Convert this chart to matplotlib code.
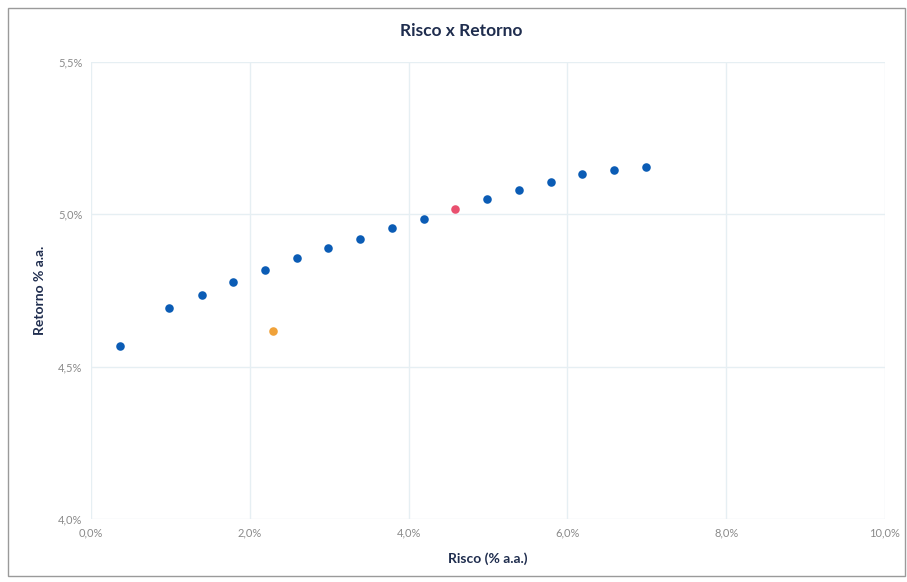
import matplotlib.pyplot as plt
from matplotlib.ticker import FuncFormatter
from matplotlib.patches import Rectangle

# Fronteira eficiente (Risco % a.a., Retorno % a.a.)
risco = [0.36, 0.98, 1.40, 1.79, 2.19, 2.59, 2.99, 3.39, 3.79, 4.20,
         4.99, 5.39, 5.79, 6.19, 6.59, 6.99]
retorno = [4.569, 4.694, 4.736, 4.778, 4.816, 4.856, 4.891, 4.919, 4.954, 4.986,
           5.049, 5.079, 5.107, 5.134, 5.147, 5.156]

# Carteira otima (destaque) e carteira atual
risco_otima = [4.59]
retorno_otima = [5.017]
risco_atual = [2.29]
retorno_atual = [4.616]

azul = "#0b5cb5"
rosa = "#e9506f"
laranja = "#f0a23a"
navy = "#1f2d4e"
cinza = "#8a8a8a"

plt.rcParams['font.family'] = ['Lato', 'DejaVu Sans']

fig = plt.figure(figsize=(9.07, 5.82), dpi=100)
W, H = 907, 582
ax = fig.add_axes([91 / W, 1 - 519 / H, (885 - 91) / W, (519 - 62) / H])

ax.scatter(risco, retorno, s=38, color=azul, zorder=3, linewidths=0)
ax.scatter(risco_otima, retorno_otima, s=38, color=rosa, zorder=3, linewidths=0)
ax.scatter(risco_atual, retorno_atual, s=38, color=laranja, zorder=3, linewidths=0)

ax.set_xlim(0, 10)
ax.set_ylim(4.0, 5.5)
ax.set_xticks([0, 2, 4, 6, 8, 10])
ax.set_yticks([4.0, 4.5, 5.0, 5.5])
fmt = FuncFormatter(lambda v, p: f"{v:.1f}%".replace(".", ","))
ax.xaxis.set_major_formatter(fmt)
ax.yaxis.set_major_formatter(fmt)

ax.grid(True, color="#e6eff3", linewidth=1)
ax.set_axisbelow(True)
for s in ax.spines.values():
    s.set_visible(False)
ax.tick_params(length=0, labelsize=8, labelcolor=cinza, pad=6)

ax.set_xlabel("Risco (% a.a.)", fontsize=10, fontweight="bold", color=navy, labelpad=10)
ax.set_ylabel("Retorno % a.a.", fontsize=10, fontweight="bold", color=navy, labelpad=9)
fig.text(461 / W, 1 - 31 / H, "Risco x Retorno", ha="center", va="center",
         fontsize=12.5, fontweight="bold", color=navy)

# moldura do grafico
fig.patches.append(Rectangle((8 / W, 6 / H), (W - 10) / W, (H - 14) / H,
                             transform=fig.transFigure, fill=False,
                             edgecolor="#9a9a9a", linewidth=1))

fig.savefig("out.png", dpi=100)
